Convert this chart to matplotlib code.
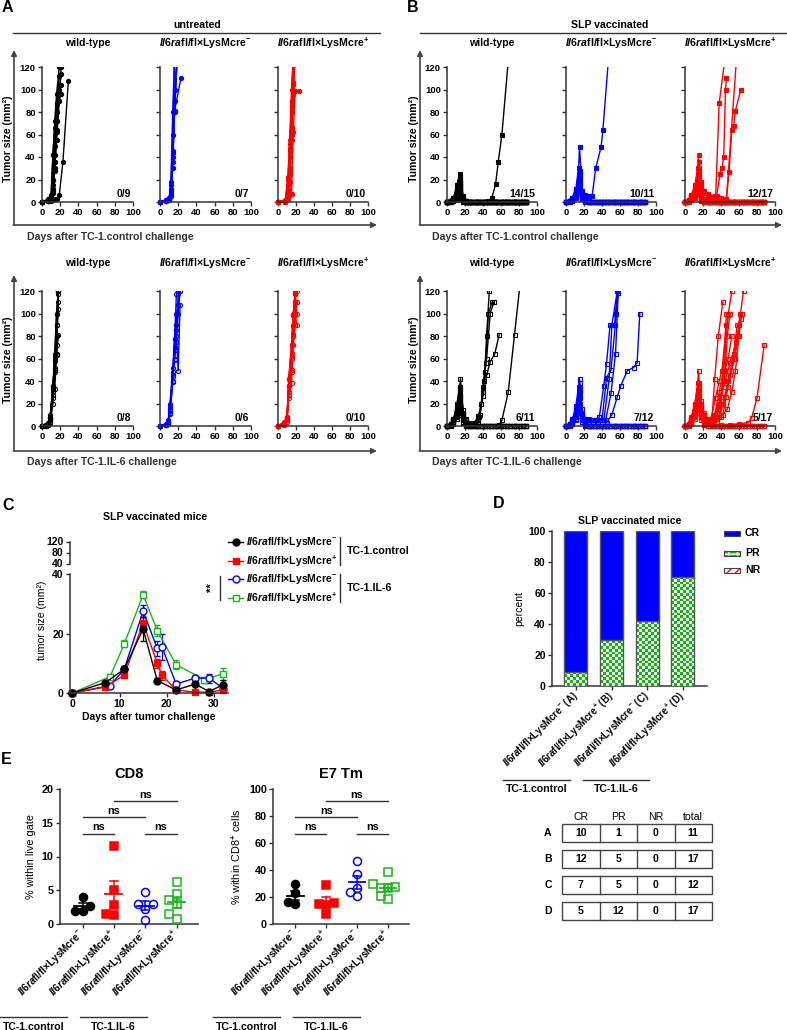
import numpy as np
import matplotlib
matplotlib.use('Agg')
import matplotlib.pyplot as plt
from matplotlib.transforms import Bbox, TransformedBbox
from matplotlib.colors import ListedColormap
from matplotlib.patches import Rectangle

plt.rcParams['font.family'] = ['Liberation Sans', 'DejaVu Sans']
plt.rcParams['font.weight'] = 'bold'
plt.rcParams['mathtext.fontset'] = 'custom'
plt.rcParams['mathtext.it'] = 'Liberation Sans:italic:bold'
plt.rcParams['mathtext.rm'] = 'Liberation Sans:bold'
plt.rcParams['mathtext.bf'] = 'Liberation Sans:bold'
plt.rcParams['axes.linewidth'] = 1.1

BLACK, BLUE, RED, GREEN = '#000000', '#0000FF', '#FF0000', '#1DB41D'
AXC = '#333333'

# ---------------- data: panel A (untreated) ----------------
untr_ctrl_days = [0, 7, 10, 12, 14, 16, 19, 21, 23, 26, 29]
untr_ctrl_wt = [
    [0, 2, 5, 42, 72, 96, 120],
    [0, 1, 4, 20, 42, 72, 96, 120],
    [0, 3, 6, 42, 66, 88, 112],
    [0, 1, 2, 8, 30, 62, 96, 114],
    [0, 2, 4, 15, 36, 72, 104],
    [0, 1, 3, 10, 28, 55, 90, 96],
    [0, 2, 5, 20, 50, 80, 100],
    [0, 1, 1, 2, 3, 3, 6, None, 36, None, 108],
    [0, 1, 3, 12, 36, 64, 96, 104],
]
untr_ctrl_cm = [
    [0, 1, 3, 18, 80, 130],
    [0, 2, 4, 10, 45, 100, 130],
    [0, 1, 2, 6, 36, 81, 130],
    [0, 2, 3, 12, 44, 80, 130],
    [0, 1, 3, 8, 40, 90, 130],
    [0, 2, 4, 5, 30, 81, None, None, 110],
    [0, 1, 3, 15, 60, 130],
]
untr_ctrl_cp_days = [0, 8, 11, 13, 15, 17, 19, 21, 23]
untr_ctrl_cp = [
    [0, 0, 22, 52, 100, 130],
    [0, 1, 10, 40, 67, 107, 130],
    [0, 0, 5, 30, 62, 100, 130],
    [0, 2, 15, 48, 80, 130],
    [0, 1, 8, 25, 60, 104, 130],
    [0, 0, 3, 6, 7, 62, 99, None, 99],
    [0, 1, 20, 55, 90, 130],
    [0, 0, 6, 28, 65, 95, 130],
    [0, 1, 12, 45, 85, 130],
    [0, 0, 4, 18, 55, 100, 130],
]
untr_il6_days = [0, 4, 7, 9, 12, 14, 16, 18, 20, 22]
untr_il6_wt = [
    [0, 0.5, 2, 5, 35, 58, 100, 120],
    [0, 0.3, 1, 3, 20, 50, 90, 120],
    [0, 0.5, 2, 8, 36, 62, 90, 104],
    [0, 0.2, 1, 4, 25, 48, 80, 117],
    [0, 0.5, 3, 10, 33, 64, 100, 120],
    [0, 0.3, 2, 6, 28, 33, 63, 81],
    [0, 0.5, 1, 5, 30, 52, 72, 110],
    [0, 0.3, 2, 7, 36, 60, 64, 120],
]
untr_il6_cm_days = [0, 7, 9, 11, 14, 16, 18, 20, 22]
untr_il6_cm = [
    [0, 1, 4, 20, 52, 77, 117, 120],
    [0, 1, 3, 12, 40, 68, 100, 108, 120],
    [0, 2, 5, 18, 45, 60, 80, 49, 108],
    [0, 1, 3, 11, 39, 77, 90, 108],
    [0, 1, 4, 15, 48, 70, 85, 117],
    [0, 1, 2, 13, 44, 59, 75, 100, 120],
]
untr_il6_cp_days = [0, 7, 10, 12, 15, 17, 19, 21, 23]
untr_il6_cp = [
    [0, 3, 8, 42, 72, 99, 117],
    [0, 2, 6, 36, 72, 89, 110, 120],
    [0, 4, 7, 30, 50, 82, 100, 110],
    [0, 1, 5, 42, 65, 99, 120],
    [0, 3, 8, 25, 38, 72, 90, 110],
    [0, 2, 6, 36, 48, 89, 110, 100],
    [0, 1, 4, 30, 60, 90, 120],
    [0, 3, 7, 42, 72, 100, 118],
    [0, 2, 5, 28, 50, 80, 99, 90],
    [0, 1, 6, 36, 62, 99, 117],
]

# ---------------- data: panel B (SLP vaccinated) ----------------
vac_days = [0, 4, 7, 11, 14, 15, 18, 21, 25]
followup_days = [28, 32, 35, 39, 42, 46, 49, 53, 56, 60, 63, 67, 70, 74, 77, 81, 84, 88]
vac_ctrl_wt = [
    [0, 1, 3, 15, 25, 20, 5, 1, 0], [0, 0.5, 2, 13, 22, 18, 3, 0, 0],
    [0, 1, 4, 10, 20, 12, 2, 0, 0], [0, 0, 2, 8, 14, 10, 1, 0, 0],
    [0, 1, 3, 5, 12, 6, 2, 1, 0], [0, 0.5, 1, 4, 10, 8, 1, 0, 0],
    [0, 1, 2, 6, 17, 14, 3, 0, 0], [0, 0, 1, 3, 8, 5, 0, 0, 0],
    [0, 0.5, 2, 7, 13, 11, 2, 0, 0], [0, 1, 3, 12, 18, 15, 4, 1, 0],
    [0, 0, 1, 2, 5, 3, 0, 0, 0], [0, 0.5, 2, 9, 15, 9, 1, 0, 0],
    [0, 1, 1, 4, 6, 4, 1, 0, 0], [0, 0, 2, 5, 9, 7, 2, 0, 0],
    [0, 1, 3, 10, 15, 12, 2, 1, 0],
]
vac_ctrl_wt_tail = {14: [(28, 0), (35, 0), (42, 0), (46, 1), (50, 4), (54, 16), (57, 36), (61, 60), (68, 125)]}
vac_ctrl_cm = [
    [0, 1, 4, 12, 30, 49, 10, 5, 2], [0, 0.5, 3, 10, 22, 28, 8, 3, 1],
    [0, 1, 2, 8, 18, 20, 6, 2, 0], [0, 0.5, 2, 6, 15, 12, 5, 1, 0],
    [0, 1, 3, 9, 25, 22, 7, 2, 0], [0, 0, 1, 5, 10, 14, 4, 1, 0],
    [0, 1, 2, 7, 12, 18, 5, 2, 0], [0, 0.5, 1, 4, 8, 10, 3, 0, 0],
    [0, 1, 3, 11, 20, 26, 6, 3, 0], [0, 0, 2, 6, 14, 16, 4, 1, 0],
    [0, 1, 3, 10, 16, 25, 8, 6, 5],
]
vac_ctrl_cm_tail = {10: [(29, 5), (33, 30), (39, 49), (41, 64), (47, 125)]}
vac_ctrl_cp = [
    [0, 1, 5, 15, 30, 42, 12, 3, 0], [0, 2, 6, 14, 25, 36, 10, 2, 0],
    [0, 1, 4, 10, 22, 30, 8, 1, 0], [0, 1, 3, 8, 18, 25, 6, 1, 0],
    [0, 2, 5, 10, 16, 20, 5, 2, 0], [0, 0, 3, 7, 12, 18, 4, 1, 0],
    [0, 1, 4, 9, 14, 15, 3, 0, 0], [0, 1, 2, 6, 10, 12, 2, 0, 0],
    [0, 0, 2, 5, 8, 10, 2, 0, 0], [0, 1, 3, 6, 14, 22, 4, 1, 0],
    [0, 2, 5, 12, 20, 28, 7, 2, 0], [0, 1, 2, 4, 6, 8, 1, 0, 0],
    [0, 1, 4, 10, 20, 25, 18, 10, 6], [0, 2, 5, 12, 18, 22, 15, 9, 7],
    [0, 1, 3, 9, 15, 18, 12, 8, 5], [0, 1, 4, 8, 14, 16, 14, 8, 4],
    [0, 2, 6, 11, 17, 20, 16, 9, 5],
]
vac_ctrl_cp_tail = {
    12: [(34, 4), (38, 88), (44, 125)],
    13: [(35, 5), (39, 25), (41, 30), (43, 40), (45, 100), (46, 110)],
    14: [(30, 3), (35, 3), (42, 2), (46, 3), (49, 27), (52, 64), (54, 68), (56, 81), (62, 100)],
    15: [(30, 3), (38, 2), (46, 2), (57, 125)],
    16: [(33, 5), (40, 4), (44, 3), (47, 1), (50, 0), (56, 0), (63, 0), (70, 0), (77, 0), (84, 0), (88, 0)],
}
vac_il6_wt = [
    [0, 1, 5, 20, 35, 42, 12, 3, 0], [0, 2, 6, 15, 28, 30, 10, 2, 0],
    [0, 1, 4, 12, 22, 25, 8, 1, 0], [0, 0, 3, 10, 18, 20, 5, 1, 0],
    [0, 1, 2, 8, 14, 15, 4, 0, 0], [0, 1, 3, 6, 10, 12, 3, 0, 0],
    [0, 2, 5, 14, 25, 32, 14, 5, 2], [0, 1, 4, 12, 20, 28, 10, 4, 1],
    [0, 1, 6, 16, 26, 35, 12, 6, 3], [0, 2, 5, 10, 18, 22, 9, 4, 2],
    [0, 1, 3, 9, 16, 20, 6, 2, 0],
]
vac_il6_wt_tail = {
    6: [(30, 2), (35, 5), (37, 10), (40, 35), (42, 48), (44, 80), (47, 120)],
    7: [(30, 1), (35, 3), (40, 30), (43, 56), (46, 100), (50, 110)],
    8: [(30, 2), (35, 9), (38, 20), (41, 40), (44, 60), (48, 100), (52, 110)],
    9: [(30, 3), (36, 8), (40, 27), (44, 45), (48, 57), (53, 64), (58, 81)],
    10: [(28, 0), (35, 0), (42, 0), (49, 0), (56, 0), (58, 1), (61, 5), (68, 30), (75, 81), (81, 125)],
}
vac_il6_cm = [
    [0, 1, 5, 18, 35, 42, 15, 4, 0], [0, 2, 6, 15, 30, 38, 12, 3, 0],
    [0, 1, 4, 12, 25, 30, 10, 2, 0], [0, 0, 3, 10, 20, 25, 8, 2, 0],
    [0, 1, 3, 8, 16, 20, 6, 1, 0], [0, 1, 2, 6, 12, 15, 5, 1, 0],
    [0, 0, 2, 5, 9, 12, 4, 0, 0],
    [0, 1, 4, 14, 28, 35, 10, 6, 5], [0, 2, 5, 12, 22, 30, 9, 5, 5],
    [0, 1, 3, 10, 20, 26, 8, 6, 6], [0, 1, 4, 11, 24, 32, 9, 5, 5],
    [0, 2, 5, 13, 26, 34, 11, 5, 4],
]
vac_il6_cm_tail = {
    7: [(30, 5), (37, 8), (42, 36), (45, 55), (49, 90), (54, 90), (57, 120)],
    8: [(30, 5), (35, 5), (42, 5), (48, 42), (51, 90), (57, 120)],
    9: [(30, 5), (35, 5), (44, 5), (50, 29), (55, 64), (58, 118)],
    10: [(30, 5), (35, 4), (45, 3), (51, 10), (57, 26), (61, 36), (68, 49), (75, 52), (79, 56), (82, 100)],
    11: [(30, 4), (35, 5), (40, 5), (45, 43), (50, 50), (56, 100), (58, 120)],
}
vac_il6_cp = [
    [0, 1, 6, 20, 38, 49, 15, 4, 0], [0, 2, 5, 15, 28, 35, 12, 3, 0],
    [0, 1, 4, 12, 22, 28, 10, 2, 0], [0, 1, 3, 10, 18, 22, 8, 1, 0],
    [0, 0, 2, 6, 12, 15, 5, 1, 0],
    [0, 2, 7, 18, 30, 36, 20, 10, 5], [0, 1, 5, 14, 25, 30, 18, 9, 5],
    [0, 2, 6, 12, 22, 26, 15, 8, 5], [0, 1, 4, 10, 20, 24, 14, 7, 4],
    [0, 2, 8, 20, 32, 38, 22, 12, 6], [0, 1, 5, 15, 26, 32, 18, 9, 4],
    [0, 2, 6, 16, 28, 34, 20, 10, 3], [0, 1, 3, 9, 16, 20, 12, 6, 5],
    [0, 2, 7, 18, 30, 36, 19, 10, 5], [0, 1, 4, 12, 22, 28, 16, 8, 4],
    [0, 2, 5, 13, 24, 29, 17, 9, 3], [0, 1, 3, 8, 14, 18, 10, 5, 2],
]
vac_il6_cp_tail = {
    5: [(30, 5), (33, 42), (37, 80), (42, 110)],
    6: [(32, 8), (38, 20), (42, 40), (46, 100), (48, 99), (52, 120)],
    7: [(28, 5), (35, 3), (42, 10), (48, 35), (55, 60), (60, 90), (65, 120)],
    8: [(30, 2), (38, 8), (45, 26), (50, 45), (55, 60), (59, 80), (61, 100)],
    9: [(30, 6), (35, 12), (40, 26), (44, 40), (47, 80), (50, 100)],
    10: [(30, 4), (35, 8), (40, 20), (44, 49), (48, 60), (52, 80)],
    11: [(28, 3), (33, 10), (38, 30), (43, 50), (48, 100)],
    12: [(32, 5), (40, 8), (47, 15), (52, 30), (56, 49), (60, 80), (63, 100)],
    13: [(30, 5), (37, 15), (43, 35), (50, 56), (57, 75), (62, 95)],
    14: [(28, 4), (34, 25), (38, 40), (41, 49), (46, 90)],
    15: [(30, 3), (36, 6), (42, 20), (48, 40), (54, 64), (58, 90)],
    16: [(30, 1), (40, 1), (50, 1), (60, 2), (70, 3), (74, 7), (80, 25), (88, 72)],
}
fractions_untr_ctrl = ['0/9', '0/7', '0/10']
fractions_untr_il6 = ['0/8', '0/6', '0/10']
fractions_vac_ctrl = ['14/15', '10/11', '12/17']
fractions_vac_il6 = ['6/11', '7/12', '5/17']

# ---------------- data: panel C ----------------
c_black_days = [0, 7, 11, 15, 18, 22, 26, 29, 32]
c_black_mean = [0, 3.5, 8, 21.5, 4.2, 1, 3, 0.5, 2.8]
c_black_sem = [0, 0.8, 1.2, 4, 1, 0.5, 2.5, 0.3, 1.5]
c_red_days = [0, 7, 11, 15, 18, 19, 22, 26, 29, 32]
c_red_mean = [0, 2, 6, 23.5, 10, 6, 1, 0.3, 0.3, 1]
c_red_sem = [0, 0.5, 1, 2, 1.5, 1.5, 0.5, 0.2, 0.2, 0.5]
c_blue_days = [0, 8, 11, 15, 18, 19, 22, 26, 29, 32]
c_blue_mean = [0, 2.5, 8, 27.5, 15, 15.5, 3, 5, 5, 1.5]
c_blue_sem = [0, 0.5, 1, 2, 2.5, 4.5, 1, 1, 1.5, 0.8]
c_green_days = [0, 8, 11, 15, 18, 22, 28, 32]
c_green_mean = [0, 5.5, 16.5, 33, 21, 9.5, 4.5, 6.5]
c_green_sem = [0, 0.8, 1.2, 1.2, 2, 1.5, 1, 2]

# ---------------- data: panel D / table ----------------
table_rows = ['A', 'B', 'C', 'D']
table_cols = ['CR', 'PR', 'NR', 'total']
n_CR = [10, 12, 7, 5]
n_PR = [1, 5, 5, 12]
n_NR = [0, 0, 0, 0]
n_total = [11, 17, 12, 17]

# ---------------- data: panel E ----------------
cd8_black = [4.0, 2.0, 2.0, 2.6]
cd8_red = [11.5, 5.0, 2.8, 1.3, 1.5]
cd8_blue = [4.8, 2.9, 2.9, 2.2, 0.6]
cd8_green = [6.2, 4.4, 3.6, 3.0, 1.5, 0.7]
e7_black = [29.5, 23, 14.6, 16.5]
e7_red = [29, 15.3, 15, 14, 7.4]
e7_blue = [46.9, 37, 26.5, 23.7, 20.7]
e7_green = [38.5, 30, 27.4, 27, 26.5, 18.5, 20.5]

W, H = 787, 1030
fig = plt.figure(figsize=(W / 100, H / 100), dpi=100)


def px_axes(x0, y0, x1, y1):
    return fig.add_axes([x0 / W, 1 - y1 / H, (x1 - x0) / W, (y1 - y0) / H])


def clean(ax):
    for s in ['top', 'right']:
        ax.spines[s].set_visible(False)
    for s in ['left', 'bottom']:
        ax.spines[s].set_color(AXC)
    ax.tick_params(colors=AXC, labelcolor='black', width=1, length=3)
    ax.set_facecolor('none')


def spaghetti(ax, days, mice, color, marker, filled, tails=None, followup=None):
    for i, vals in enumerate(mice):
        pts = [(d, v) for d, v in zip(days, vals) if v is not None]
        if tails is not None:
            pts += tails[i] if i in tails else [(d, 0) for d in followup]
        x = [p[0] for p in pts]
        y = [p[1] for p in pts]
        ln, = ax.plot(x, y, color=color, lw=1.0, marker=marker, ms=3.0,
                      mfc=color if filled else 'none', mec=color, mew=0.8)
        ln.set_clip_box(TransformedBbox(Bbox([[-6, -6], [106, 120]]), ax.transData))


lab_wt = 'wild-type'
lab_cm = r'$\mathit{Il6ra}$fl/fl×LysMcre$^{-}$'
lab_cp = r'$\mathit{Il6ra}$fl/fl×LysMcre$^{+}$'

col_x = [(42, 133), (160, 251), (278, 368), (447, 537), (566, 656), (685, 775)]
row_y = [(67, 202), (291, 426)]
panels = [
    (0, 0, untr_ctrl_days, untr_ctrl_wt, BLACK, 'o', True, None, fractions_untr_ctrl[0]),
    (0, 1, untr_ctrl_days, untr_ctrl_cm, BLUE, 'o', True, None, fractions_untr_ctrl[1]),
    (0, 2, untr_ctrl_cp_days, untr_ctrl_cp, RED, 'o', True, None, fractions_untr_ctrl[2]),
    (1, 0, untr_il6_days, untr_il6_wt, BLACK, 'o', False, None, fractions_untr_il6[0]),
    (1, 1, untr_il6_cm_days, untr_il6_cm, BLUE, 'o', False, None, fractions_untr_il6[1]),
    (1, 2, untr_il6_cp_days, untr_il6_cp, RED, 'o', False, None, fractions_untr_il6[2]),
    (0, 3, vac_days, vac_ctrl_wt, BLACK, 's', True, vac_ctrl_wt_tail, fractions_vac_ctrl[0]),
    (0, 4, vac_days, vac_ctrl_cm, BLUE, 's', True, vac_ctrl_cm_tail, fractions_vac_ctrl[1]),
    (0, 5, vac_days, vac_ctrl_cp, RED, 's', True, vac_ctrl_cp_tail, fractions_vac_ctrl[2]),
    (1, 3, vac_days, vac_il6_wt, BLACK, 's', False, vac_il6_wt_tail, fractions_vac_il6[0]),
    (1, 4, vac_days, vac_il6_cm, BLUE, 's', False, vac_il6_cm_tail, fractions_vac_il6[1]),
    (1, 5, vac_days, vac_il6_cp, RED, 's', False, vac_il6_cp_tail, fractions_vac_il6[2]),
]
titles = [lab_wt, lab_cm, lab_cp] * 2

ov_texts = []
for r, c, days, mice, color, mk, filled, tails, frac in panels:
    x0, x1 = col_x[c]
    y0, y1 = row_y[r]
    ax = px_axes(x0, y0, x1, y1)
    clean(ax)
    spaghetti(ax, days, mice, color, mk, filled,
              tails if tails is not None else ({} if mk == 's' else None), followup_days)
    ax.set_xlim(0, 100)
    ax.set_ylim(0, 120)
    ax.set_xticks(range(0, 101, 20))
    ax.set_yticks(range(0, 121, 20))
    if c % 3 != 0:
        ax.set_yticklabels([])
    ax.tick_params(labelsize=6.8, pad=1.5)
    ax.text(0.98, 0.06, frac, transform=ax.transAxes, ha='right', va='center',
            fontsize=7.5, fontweight='bold')
    ov_texts.append(((x0 + x1) / 2, y0 - 24 if r == 0 else y0 - 28, titles[c]))

# ---------------- panel C ----------------
axC = px_axes(70, 574, 228, 693)
axCu = px_axes(70, 542, 228, 564)
series_C = [
    (c_black_days, c_black_mean, c_black_sem, BLACK, 'o', True),
    (c_red_days, c_red_mean, c_red_sem, RED, 's', True),
    (c_blue_days, c_blue_mean, c_blue_sem, BLUE, 'o', False),
    (c_green_days, c_green_mean, c_green_sem, GREEN, 's', False),
]
for days, mean, sem, color, mk, filled in series_C[::-1]:
    axC.errorbar(days, mean, yerr=sem, color=color, marker=mk, ms=5 if mk == 'o' else 4.6,
                 mfc=color if filled else 'white', mec=color, mew=1.0, lw=1.0,
                 elinewidth=0.9, capsize=2.5, capthick=0.9, clip_on=False)
clean(axC)
axC.set_xlim(-0.5, 33)
axC.set_ylim(0, 40)
axC.set_xticks([0, 10, 20, 30])
axC.set_yticks([0, 20, 40])
axC.tick_params(labelsize=7.5, pad=1.5)
axC.set_xlabel('Days after tumor challenge', fontsize=7.5, fontweight='bold', labelpad=2)
clean(axCu)
axCu.spines['bottom'].set_visible(False)
axCu.set_xlim(-0.5, 33)
axCu.set_ylim(40, 120)
axCu.set_xticks([])
axCu.set_yticks([40, 80, 120])
axCu.tick_params(labelsize=7.5, pad=1.5)
for t in axCu.get_yticklabels():
    t.set_va('center')

# ---------------- panel D ----------------
axD = px_axes(552, 531, 707, 686)
clean(axD)
xD = np.arange(len(table_rows))
pr_pct = np.array(n_PR) / np.array(n_total) * 100
cr_pct = np.array(n_CR) / np.array(n_total) * 100
nr_pct = np.array(n_NR) / np.array(n_total) * 100
bw = 0.65
pr_bars = axD.bar(xD, pr_pct, width=bw, color=GREEN, edgecolor='none', zorder=2)
cmap_chk = ListedColormap(['#ffffff', '#10B810'])
for b in pr_bars:
    bx, by, bwid, bh = b.get_x(), b.get_y(), b.get_width(), b.get_height()
    nx = 8
    ny = max(1, int(round(bh / 100 * 155 / 2.8)))
    chk = np.add.outer(np.arange(ny), np.arange(nx)) % 2
    axD.imshow(chk, cmap=cmap_chk, extent=[bx, bx + bwid, by, by + bh], aspect='auto',
               interpolation='nearest', origin='lower', zorder=3)
axD.bar(xD, pr_pct, width=bw, color='none', edgecolor='#555555', lw=1.0, zorder=4)
axD.bar(xD, cr_pct, bottom=pr_pct, width=bw, color=BLUE, edgecolor='#555555', lw=1.0, zorder=4)
axD.bar(xD, nr_pct, bottom=pr_pct + cr_pct, width=bw, color='white', edgecolor=RED, hatch='///', lw=0, zorder=4)
axD.set_xlim(-0.67, 3.68)
axD.set_ylim(0, 100)
axD.set_yticks(range(0, 101, 20))
axD.set_xticks(xD)
d_labels = [r'$\mathit{Il6ra}$fl/fl×LysMcre$^{-}$ (A)', r'$\mathit{Il6ra}$fl/fl×LysMcre$^{+}$ (B)',
            r'$\mathit{Il6ra}$fl/fl×LysMcre$^{-}$ (C)', r'$\mathit{Il6ra}$fl/fl×LysMcre$^{+}$ (D)']
axD.set_xticklabels(d_labels, rotation=45, ha='right', va='center', rotation_mode='anchor', fontsize=6.9)
axD.tick_params(axis='y', labelsize=7.5, pad=1.5)
axD.tick_params(axis='x', pad=3)
axD.set_ylabel('percent', fontsize=7.5, fontweight='normal', labelpad=3)
axD.set_title('SLP vaccinated mice', fontsize=7.5, fontweight='bold', pad=5)

# ---------------- panel E ----------------
e_colors = [(BLACK, 'o', True), (RED, 's', True), (BLUE, 'o', False), (GREEN, 's', False)]
e_labels = [lab_cm, lab_cp, lab_cm, lab_cp]


def swarm(vals, px_per_unit, cat_px, diam=7.0, step=0.24):
    vals = np.asarray(vals, float)
    order = np.argsort(vals)
    placed = []
    offs = np.zeros(len(vals))
    for idx in order:
        y = vals[idx] * px_per_unit
        for k in [0, -1, 1, -2, 2, -3, 3]:
            dx = k * step * cat_px
            if all(abs(dx - px) >= diam or abs(y - py) >= diam for px, py in placed):
                break
        placed.append((dx, y))
        offs[idx] = k * step
    return offs


def panel_E(box, groups, ymax, ystep, title, ylabel, sigs):
    x0, y0, x1, y1 = box
    ax = px_axes(x0, y0, x1, y1)
    clean(ax)
    cat_px = 31.2
    ppu = (y1 - y0) / ymax
    for i, (vals, (color, mk, filled)) in enumerate(zip(groups, e_colors)):
        offs = swarm(vals, ppu, cat_px)
        ax.plot(i + offs, vals, ls='none', marker=mk, ms=5.8 if mk == 'o' else 5.4,
                mfc=color if filled else 'none', mec=color, mew=1.1, clip_on=False, zorder=3)
        m = np.mean(vals)
        s = np.std(vals, ddof=1) / np.sqrt(len(vals))
        ax.plot([i - 0.27, i + 0.27], [m, m], color=color, lw=1.3, zorder=2)
        ax.plot([i, i], [m - s, m + s], color=color, lw=1.1, zorder=2)
        for yy in (m - s, m + s):
            ax.plot([i - 0.13, i + 0.13], [yy, yy], color=color, lw=1.1, zorder=2)
    ax.set_xlim(-0.72, 3.68)
    ax.set_ylim(0, ymax)
    ax.set_yticks(np.arange(0, ymax + 0.1, ystep))
    ax.set_xticks(range(4))
    ax.set_xticklabels(e_labels, rotation=45, ha='right', va='center', rotation_mode='anchor', fontsize=7.2)
    ax.tick_params(axis='y', labelsize=7.8, pad=1.5)
    ax.tick_params(axis='x', pad=3)
    ax.set_title(title, fontsize=10.5, fontweight='bold', pad=8)
    ax.set_ylabel(ylabel, fontsize=7.8, fontweight='normal', labelpad=4)
    for i, j, frac in sigs:
        yv = frac * ymax
        ax.plot([i, j], [yv, yv], color='#333333', lw=1.0, clip_on=False)
        ax.text((i + j) / 2, yv + 0.012 * ymax, 'ns', ha='center', va='bottom',
                fontsize=7.8, fontweight='bold')
    return ax


sig_pairs = [(0, 1, 0.667), (0, 2, 0.79), (1, 3, 0.91), (2, 3, 0.667)]
panel_E((60, 789, 198, 924), [cd8_black, cd8_red, cd8_blue, cd8_green], 20, 5, 'CD8',
        '% within live gate', sig_pairs)
panel_E((273, 789, 409, 924), [e7_black, e7_red, e7_blue, e7_green], 100, 20, 'E7 Tm',
        r'% within CD8$^{+}$ cells', sig_pairs)

# ---------------- overlay: annotations ----------------
ov = fig.add_axes([0, 0, 1, 1])
ov.set_xlim(0, W)
ov.set_ylim(H, 0)
ov.axis('off')

for x, y, s in ov_texts:
    ov.text(x, y, s, ha='center', va='center', fontsize=7.6, fontweight='bold')

for s, x, y in [('A', 2, 8), ('B', 407, 8), ('C', 2, 505), ('D', 493, 504), ('E', 1, 760)]:
    ov.text(x, y, s, ha='left', va='center', fontsize=11.5, fontweight='bold')

arrow_kw = dict(arrowstyle='-|>', color='#444444', lw=1.2, mutation_scale=8, shrinkA=0, shrinkB=0)
for vx, hx_end in [(14, 377), (420, 782)]:
    for ybase, ytop in [(225, 50), (451, 275)]:
        ov.annotate('', xy=(vx, ytop), xytext=(vx, ybase), arrowprops=arrow_kw)
        ov.annotate('', xy=(hx_end, ybase), xytext=(vx - 0.6, ybase), arrowprops=arrow_kw)
    ov.text(vx - 6, 139, 'Tumor size (mm²)', rotation=90, ha='center', va='center',
            fontsize=7.6, fontweight='bold')
    ov.text(vx - 6, 360, 'Tumor size (mm²)', rotation=90, ha='center', va='center',
            fontsize=7.6, fontweight='bold')
for x, s in [(27, 'Days after TC-1.control challenge'), (432, 'Days after TC-1.control challenge')]:
    ov.text(x, 237, s, ha='left', va='center', fontsize=7.6, fontweight='bold', color='#333333')
for x, s in [(27, 'Days after TC-1.IL-6 challenge'), (432, 'Days after TC-1.IL-6 challenge')]:
    ov.text(x, 462, s, ha='left', va='center', fontsize=7.6, fontweight='bold', color='#333333')

ov.text(197, 25, 'untreated', ha='center', va='center', fontsize=7.6, fontweight='bold')
ov.plot([13, 380], [33, 33], color='#333333', lw=1.0)
ov.text(610, 25, 'SLP vaccinated', ha='center', va='center', fontsize=7.6, fontweight='bold')
ov.plot([420, 787], [33, 33], color='#333333', lw=1.0)

# panel C title, ylabel, legend
ov.text(155, 517, 'SLP vaccinated mice', ha='center', va='center', fontsize=7.6, fontweight='bold')
ov.text(42, 620, 'tumor size (mm²)', rotation=90, ha='center', va='center', fontsize=7.6, fontweight='normal')
leg_labels = [lab_cm, lab_cp, lab_cm, lab_cp]
leg_y = [542, 561, 579, 598]
for (days, mean, sem, color, mk, filled), lbl, yy in zip(series_C, leg_labels, leg_y):
    ov.plot([228, 243], [yy, yy], color=color, lw=1.0)
    ov.plot([235.5], [yy], marker=mk, ms=5 if mk == 'o' else 4.6, mfc=color if filled else 'white',
            mec=color, mew=1.0, color=color)
    ov.text(246, yy, lbl, ha='left', va='center', fontsize=7.5, fontweight='bold')
ov.plot([340, 340], [537, 565], color='#333333', lw=1.0)
ov.plot([340, 340], [574, 602], color='#333333', lw=1.0)
ov.text(347, 551, 'TC-1.control', ha='left', va='center', fontsize=7.7, fontweight='bold')
ov.text(347, 588, 'TC-1.IL-6', ha='left', va='center', fontsize=7.7, fontweight='bold')
ov.plot([220, 220], [576, 600], color='#333333', lw=1.0)
ov.text(212, 588, '**', rotation=90, ha='center', va='center', fontsize=8, fontweight='bold')

# panel D legend
leg_items = [('CR', 533), ('PR', 553), ('NR', 570)]
ov.add_patch(Rectangle((724, 530.5), 16, 5, facecolor=BLUE, edgecolor='#444444', lw=0.8))
ov.add_patch(Rectangle((724, 550.5), 16, 5, facecolor=GREEN, edgecolor='white', hatch='++', lw=0))
ov.add_patch(Rectangle((724, 550.5), 16, 5, facecolor='none', edgecolor='#444444', lw=0.8))
ov.add_patch(Rectangle((724, 567.5), 16, 5, facecolor='white', edgecolor=RED, hatch='////', lw=0))
ov.add_patch(Rectangle((724, 567.5), 16, 5, facecolor='none', edgecolor='#444444', lw=0.8))
for s, yy in leg_items:
    ov.text(745, yy, s, ha='left', va='center', fontsize=7.6, fontweight='bold')

# group labels under D and E
for xa, xb, yl, s in [(503, 570, 780, 'TC-1.control'), (583, 649, 780, 'TC-1.IL-6'),
                      (0, 67, 1017, 'TC-1.control'), (80, 147, 1017, 'TC-1.IL-6'),
                      (213, 280, 1017, 'TC-1.control'), (293, 360, 1017, 'TC-1.IL-6')]:
    ov.plot([xa, xb], [yl, yl], color='#333333', lw=1.0)
    ov.text((xa + xb) / 2, yl + 9.5, s, ha='center', va='center', fontsize=7.6, fontweight='bold')

# table
tx0, tx1 = 562, 712
cw = (tx1 - tx0) / len(table_cols)
for j, cname in enumerate(table_cols):
    ov.text(tx0 + cw * (j + 0.5), 817, cname, ha='center', va='center', fontsize=7.6, fontweight='normal')
table_vals = list(zip(n_CR, n_PR, n_NR, n_total))
for i, (rname, vals) in enumerate(zip(table_rows, table_vals)):
    ty = 824 + 26 * i
    ov.add_patch(Rectangle((tx0, ty), tx1 - tx0, 18, facecolor='none', edgecolor='#444444', lw=1.0))
    for j in range(1, len(table_cols)):
        ov.plot([tx0 + cw * j] * 2, [ty, ty + 18], color='#444444', lw=1.0)
    ov.text(548, ty + 9, rname, ha='center', va='center', fontsize=7.6, fontweight='bold')
    for j, v in enumerate(vals):
        ov.text(tx0 + cw * (j + 0.5), ty + 9, str(v), ha='center', va='center', fontsize=7.6, fontweight='bold')

fig.savefig('out.png', dpi=100)
